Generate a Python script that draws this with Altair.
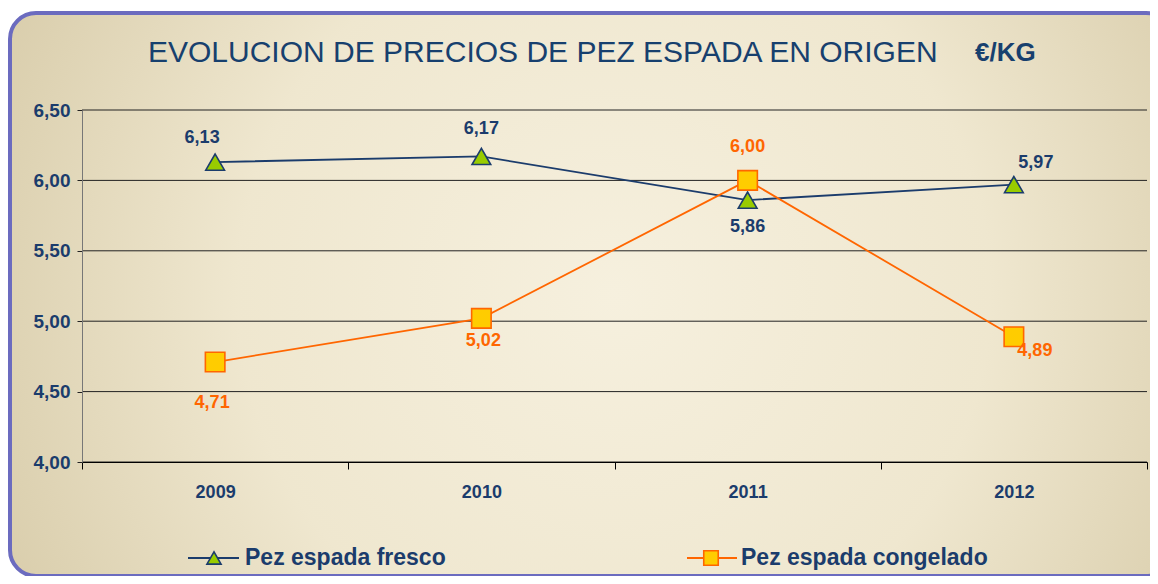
import altair as alt
import pandas as pd

# ---- data ----
years = ["2009", "2010", "2011", "2012"]
fresco = [6.13, 6.17, 5.86, 5.97]
congelado = [4.71, 5.02, 6.00, 4.89]
series_names = ["Pez espada fresco", "Pez espada congelado"]
y_ticks = [4.0, 4.5, 5.0, 5.5, 6.0, 6.5]
title_main = "EVOLUCION DE PRECIOS DE PEZ ESPADA EN ORIGEN"
title_unit = "€/KG"

rows = []
for y, v in zip(years, fresco):
    rows.append({"year": y, "series": series_names[0], "value": v})
for y, v in zip(years, congelado):
    rows.append({"year": y, "series": series_names[1], "value": v})
df = pd.DataFrame(rows)
ticks_df = pd.DataFrame({"value": y_ticks})
one = pd.DataFrame({"k": [0]})

NAVY = "#1b3c6c"
ORANGE = "#ff6600"
FONT = "Liberation Sans"

W, H = 1065, 352

xenc = alt.X("year:N", sort=years,
             scale=alt.Scale(type="band", domain=years, paddingInner=0, paddingOuter=0),
             axis=alt.Axis(title=None, labelAngle=0, tickBand="extent", tickSize=7,
                           tickColor="#000000", domainColor="#000000", labelPadding=14,
                           labelFont=FONT, labelFontSize=18, labelFontWeight="bold",
                           labelColor=NAVY, zindex=1, grid=False))
yaxis = alt.Axis(title=None, values=y_ticks,
                 labelExpr="replace(format(datum.value, '.2f'), '.', ',')",
                 tickSize=5, tickColor="#222222", domainColor="#777777",
                 labelPadding=7, labelFont=FONT, labelFontSize=19,
                 labelFontWeight="bold", labelColor=NAVY, zindex=1, grid=False)
yscale = alt.Scale(domain=[4.0, 6.5], nice=False, zero=False)
yenc = alt.Y("value:Q", scale=yscale, axis=yaxis)

# background panel
bg = alt.Chart(one).mark_rect(
    cornerRadius=26, stroke="#6b6bbf", strokeWidth=4,
    fill={"gradient": "radial", "x1": 0.52, "y1": 0.5, "r1": 0.0,
          "x2": 0.52, "y2": 0.5, "r2": 0.72,
          "stops": [{"offset": 0, "color": "#f6f0de"},
                    {"offset": 0.45, "color": "#efe7cf"},
                    {"offset": 1, "color": "#cdbf98"}]}
).encode(x=alt.value(-72), x2=alt.value(1090), y=alt.value(-97), y2=alt.value(466))

grid = alt.Chart(ticks_df).mark_rule(color="#222222", strokeWidth=1).encode(y=yenc)

base = alt.Chart(df).transform_calculate(
    label="replace(format(datum.value, '.2f'), '.', ',')")

line_f = base.transform_filter(alt.datum.series == series_names[0]).mark_line(
    color=NAVY, strokeWidth=1.8).encode(x=xenc, y=yenc)
line_c = base.transform_filter(alt.datum.series == series_names[1]).mark_line(
    color=ORANGE, strokeWidth=1.8).encode(x=xenc, y=yenc)
pts_f = base.transform_filter(alt.datum.series == series_names[0]).mark_point(
    shape="triangle-up", size=350, filled=True, fill="#99cc00", stroke=NAVY,
    strokeWidth=1.6, opacity=1).encode(x=xenc, y=yenc)
pts_c = base.transform_filter(alt.datum.series == series_names[1]).mark_point(
    shape="square", size=380, filled=True, fill="#ffcc00", stroke=ORANGE,
    strokeWidth=1.6, opacity=1).encode(x=xenc, y=yenc)

# per-label placement (layout only)
placement = {
    (series_names[0], "2009"): (-13, -24),
    (series_names[0], "2010"): (0, -27),
    (series_names[0], "2011"): (0, 27),
    (series_names[0], "2012"): (22, -22),
    (series_names[1], "2009"): (-3, 41),
    (series_names[1], "2010"): (2, 23),
    (series_names[1], "2011"): (0, -33),
    (series_names[1], "2012"): (21, 14),
}
label_layers = []
for (s, yr), (dx, dy) in placement.items():
    col = NAVY if s == series_names[0] else ORANGE
    label_layers.append(
        base.transform_filter((alt.datum.series == s) & (alt.datum.year == yr))
        .mark_text(dx=dx, dy=dy, font=FONT, fontSize=18, fontWeight="bold", color=col)
        .encode(x=xenc, y=yenc, text="label:N"))

# title
t1 = alt.Chart(one).mark_text(align="left", baseline="middle", font=FONT,
                              fontSize=30, color="#17406e").encode(
    x=alt.value(66), y=alt.value(-57), text=alt.value(title_main))
t2 = alt.Chart(one).mark_text(align="left", baseline="middle", font=FONT, fontSize=26,
                              fontWeight="bold", color="#17406e").encode(
    x=alt.value(893), y=alt.value(-57), text=alt.value(title_unit))

# legend
LY = 448
leg = [
    alt.Chart(one).mark_rule(color=NAVY, strokeWidth=1.8).encode(
        x=alt.value(106), x2=alt.value(157), y=alt.value(LY)),
    alt.Chart(one).mark_point(shape="triangle-up", size=200, filled=True, fill="#99cc00",
                              stroke=NAVY, strokeWidth=1.6, opacity=1).encode(
        x=alt.value(132), y=alt.value(LY)),
    alt.Chart(one).mark_text(align="left", baseline="middle", font=FONT, fontSize=23,
                             fontWeight="bold", color=NAVY).encode(
        x=alt.value(163), y=alt.value(LY), text=alt.value(series_names[0])),
    alt.Chart(one).mark_rule(color=ORANGE, strokeWidth=1.8).encode(
        x=alt.value(605), x2=alt.value(655), y=alt.value(LY)),
    alt.Chart(one).mark_point(shape="square", size=210, filled=True, fill="#ffcc00",
                              stroke=ORANGE, strokeWidth=1.6, opacity=1).encode(
        x=alt.value(629), y=alt.value(LY)),
    alt.Chart(one).mark_text(align="left", baseline="middle", font=FONT, fontSize=23,
                             fontWeight="bold", color=NAVY).encode(
        x=alt.value(659), y=alt.value(LY), text=alt.value(series_names[1])),
]

chart = alt.layer(bg, grid, line_f, line_c, pts_f, pts_c, *label_layers, t1, t2, *leg).properties(
    width=W, height=H,
    autosize=alt.AutoSizeParams(type="none"),
    padding={"left": 74, "top": 102, "right": 3, "bottom": 114},
).configure_view(stroke=None).configure(background="white")

chart.save("out.html", embed_options={"renderer": "svg", "actions": False})
